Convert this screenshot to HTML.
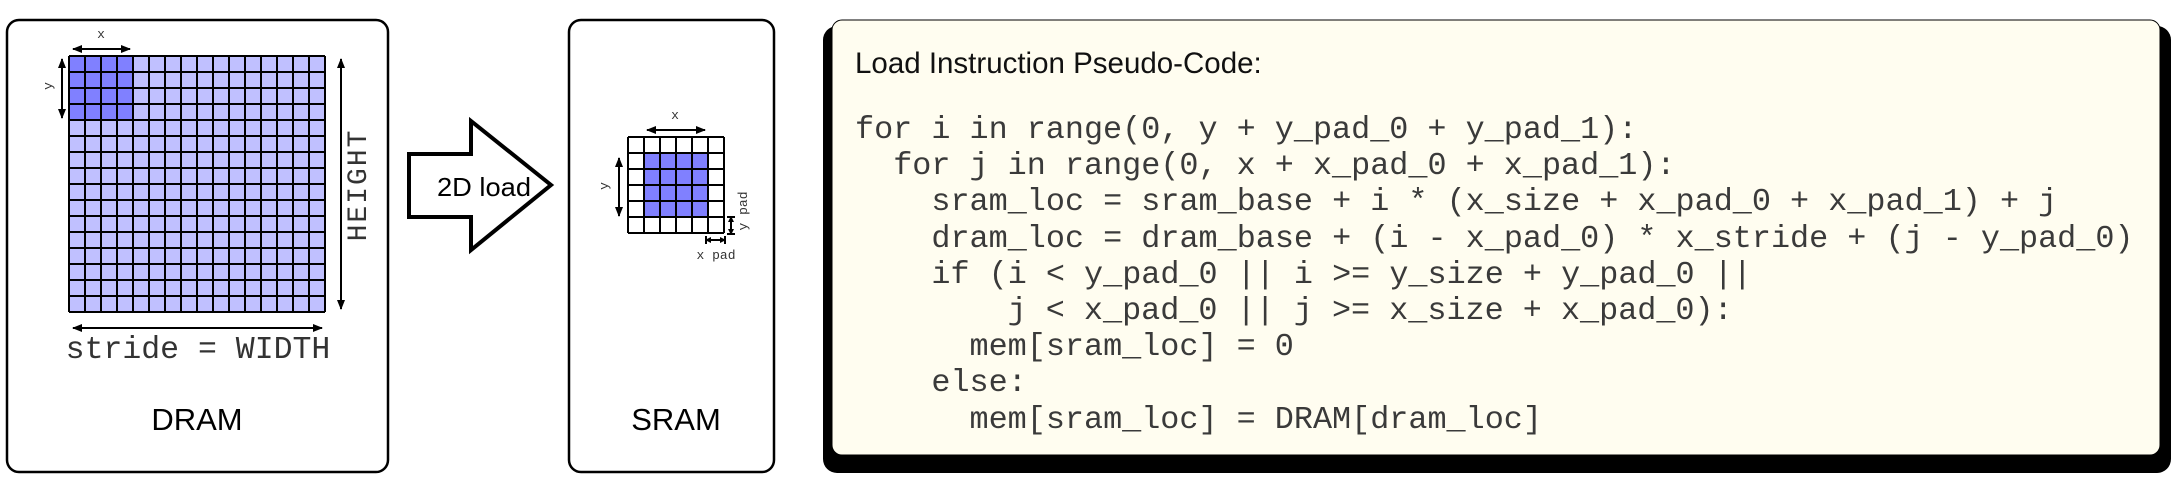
<!DOCTYPE html>
<html><head><meta charset="utf-8"><style>
html,body{margin:0;padding:0;background:#fff;}
svg{display:block;}
.pre{white-space:pre;}
</style></head><body>
<svg width="2172" height="480" viewBox="0 0 2172 480" xmlns="http://www.w3.org/2000/svg">
<defs>
<marker id="ah" markerWidth="10" markerHeight="8" refX="9" refY="4" orient="auto-start-reverse" markerUnits="userSpaceOnUse">
<path d="M0,0 L10,4 L0,8 Z" fill="#000"/></marker>
<marker id="ahs" markerWidth="6" markerHeight="6" refX="5" refY="3" orient="auto-start-reverse" markerUnits="userSpaceOnUse">
<path d="M0,0 L6,3 L0,6 Z" fill="#000"/></marker>
</defs>
<!-- DRAM box -->
<rect x="7" y="20" width="381" height="452" rx="12" fill="#fff" stroke="#000" stroke-width="2.5"/>
<rect x="69" y="56" width="256" height="256" fill="#c0c0ff"/>
<rect x="69" y="56" width="64" height="64" fill="#8080ff"/>
<g stroke="#000" stroke-width="2">
<path d="M69,56V312M85,56V312M101,56V312M117,56V312M133,56V312M149,56V312M165,56V312M181,56V312M197,56V312M213,56V312M229,56V312M245,56V312M261,56V312M277,56V312M293,56V312M309,56V312M325,56V312"/>
<path d="M69,56H325M69,72H325M69,88H325M69,104H325M69,120H325M69,136H325M69,152H325M69,168H325M69,184H325M69,200H325M69,216H325M69,232H325M69,248H325M69,264H325M69,280H325M69,296H325M69,312H325"/>
</g>
<g stroke="#000" stroke-width="2" fill="none">
<line x1="73" y1="49" x2="130" y2="49" marker-start="url(#ah)" marker-end="url(#ah)"/>
<line x1="62" y1="59" x2="62" y2="118" marker-start="url(#ah)" marker-end="url(#ah)"/>
<line x1="341" y1="59" x2="341" y2="309" marker-start="url(#ah)" marker-end="url(#ah)"/>
<line x1="73" y1="328" x2="322" y2="328" marker-start="url(#ah)" marker-end="url(#ah)"/>
</g>
<g font-family="Liberation Mono, monospace" fill="#333">
<text x="101" y="38" font-size="13" text-anchor="middle">x</text>
<text transform="translate(52,86) rotate(-90)" font-size="13" text-anchor="middle">y</text>
<text transform="translate(366,185) rotate(-90)" font-size="28" text-anchor="middle" letter-spacing="2">HEIGHT</text>
<text x="198" y="358" font-size="31.5" text-anchor="middle">stride = WIDTH</text>
</g>
<text x="197" y="430" font-family="Liberation Sans, sans-serif" font-size="31" text-anchor="middle">DRAM</text>
<!-- Arrow -->
<polygon points="409,154 471,154 471,121 551,185 471,250 471,217 409,217" fill="#fff" stroke="#000" stroke-width="4" stroke-linejoin="miter"/>
<text x="484" y="196" font-family="Liberation Sans, sans-serif" font-size="26" text-anchor="middle" textLength="94" lengthAdjust="spacingAndGlyphs">2D load</text>
<!-- SRAM box -->
<rect x="569" y="20" width="205" height="452" rx="12" fill="#fff" stroke="#000" stroke-width="2.5"/>
<rect x="644" y="153" width="64" height="64" fill="#8080ff"/>
<g stroke="#000" stroke-width="2">
<path d="M628,137V233M644,137V233M660,137V233M676,137V233M692,137V233M708,137V233M724,137V233"/>
<path d="M628,137H724M628,153H724M628,169H724M628,185H724M628,201H724M628,217H724M628,233H724"/>
</g>
<g stroke="#000" stroke-width="2" fill="none">
<line x1="647" y1="130" x2="705" y2="130" marker-start="url(#ah)" marker-end="url(#ah)"/>
<line x1="619" y1="158" x2="619" y2="216" marker-start="url(#ah)" marker-end="url(#ah)"/>
<line x1="731" y1="217" x2="731" y2="234" marker-start="url(#ahs)" marker-end="url(#ahs)"/>
<line x1="706" y1="240" x2="725" y2="240" marker-start="url(#ahs)" marker-end="url(#ahs)"/>
<line x1="706" y1="236" x2="706" y2="244"/><line x1="725" y1="236" x2="725" y2="244"/>
<line x1="727" y1="217" x2="735" y2="217"/><line x1="727" y1="234" x2="735" y2="234"/>
</g>
<g font-family="Liberation Mono, monospace" fill="#333" font-size="13">
<text x="675" y="119" text-anchor="middle">x</text>
<text transform="translate(608,186) rotate(-90)" text-anchor="middle">y</text>
<text transform="translate(747,211) rotate(-90)" text-anchor="middle">y pad</text>
<text x="716" y="259" text-anchor="middle">x pad</text>
</g>
<text x="676" y="430" font-family="Liberation Sans, sans-serif" font-size="31" text-anchor="middle">SRAM</text>
<!-- Code box -->
<rect x="823" y="26" width="1348" height="447" rx="14" fill="#000"/>
<rect x="832" y="20" width="1328" height="435" rx="10" fill="#fffdf0" stroke="#000" stroke-width="1"/>
<text x="855" y="73" font-family="Liberation Sans, sans-serif" font-size="29.5" fill="#111">Load Instruction Pseudo-Code:</text>
<g font-family="Liberation Mono, monospace" font-size="31.8" fill="#3a3a3a">
<text class="pre" x="855" y="138">for i in range(0, y + y_pad_0 + y_pad_1):</text>
<text class="pre" x="893.2" y="174">for j in range(0, x + x_pad_0 + x_pad_1):</text>
<text class="pre" x="931.4" y="210">sram_loc = sram_base + i * (x_size + x_pad_0 + x_pad_1) + j</text>
<text class="pre" x="931.4" y="247">dram_loc = dram_base + (i - x_pad_0) * x_stride + (j - y_pad_0)</text>
<text class="pre" x="931.4" y="283">if (i &lt; y_pad_0 || i &gt;= y_size + y_pad_0 ||</text>
<text class="pre" x="1007.6" y="319">j &lt; x_pad_0 || j &gt;= x_size + x_pad_0):</text>
<text class="pre" x="969.5" y="355">mem[sram_loc] = 0</text>
<text class="pre" x="931.4" y="391">else:</text>
<text class="pre" x="969.5" y="428">mem[sram_loc] = DRAM[dram_loc]</text>
</g>
</svg>
</body></html>
